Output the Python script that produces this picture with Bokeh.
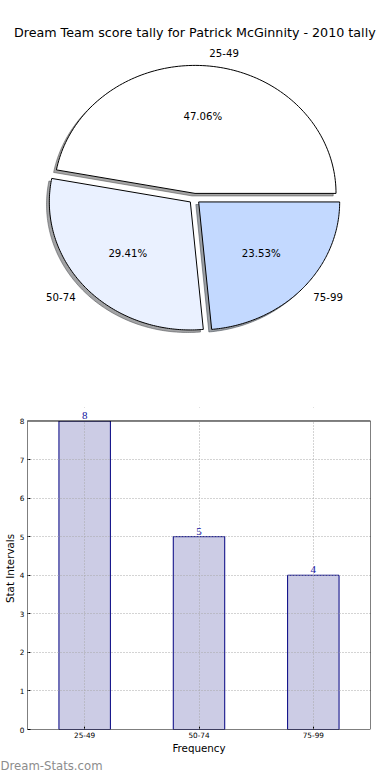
import numpy as np
from bokeh.plotting import figure
from bokeh.models import (ColumnDataSource, FixedTicker, LabelSet, Title, Range1d,
                          BoxAnnotation)
from bokeh.embed import file_html
from bokeh.resources import INLINE

# ---------------- data ----------------
title_text = "Dream Team score tally for Patrick McGinnity - 2010 tally"
categories = ["25-49", "50-74", "75-99"]
counts = [8, 5, 4]
y_ticks = [0, 1, 2, 3, 4, 5, 6, 7, 8]
x_axis_label = "Frequency"
y_axis_label = "Stat Intervals"
watermark = "Dream-Stats.com"

# ---------------- style ----------------
FONT = "DejaVu Sans"
slice_colors = ["#FFFFFF", "#EAF1FF", "#C3D9FF"]
W = 382
PIE_H = 352
BAR_H = 420
RX, RY = 141.0, 128.0      # pixels per unit radius (x, y)
CX, CY = 194.0, 198.0      # pie centre in figure pixels
EXPLODE = 0.04
SHADOW_D = -0.02


def shade(hexcol):
    h = hexcol.lstrip("#")
    r, g, b = (int(h[i:i + 2], 16) for i in (0, 2, 4))
    return "#%02x%02x%02x" % (int(r * 0.3), int(g * 0.3), int(b * 0.3))


# ---------------- pie ----------------
pie = figure(width=W, height=PIE_H, output_backend="svg", toolbar_location=None,
             x_range=Range1d(-CX / RX, (W - CX) / RX),
             y_range=Range1d(-(PIE_H - CY) / RY, CY / RY),
             x_axis_location=None, y_axis_location=None,
             min_border=0, outline_line_color=None)
pie.grid.visible = False

vals = np.array(counts, dtype=float)
frac = vals / vals.sum()
edges = np.concatenate([[0.0], np.cumsum(frac)]) * 2 * np.pi

xs, ys, sxs, sys_ = [], [], [], []
lab_x, lab_y, lab_align = [], [], []
pct_x, pct_y, pct_text = [], [], []
for i in range(len(counts)):
    a0, a1 = edges[i], edges[i + 1]
    mid = 0.5 * (a0 + a1)
    ox, oy = EXPLODE * np.cos(mid), EXPLODE * np.sin(mid)
    t = np.linspace(a0, a1, 120)
    px = np.concatenate([[ox], ox + np.cos(t)])
    py = np.concatenate([[oy], oy + np.sin(t)])
    xs.append(list(px)); ys.append(list(py))
    sxs.append(list(px + SHADOW_D)); sys_.append(list(py + SHADOW_D))
    lx = ox + 1.1 * np.cos(mid)
    ly = oy + 1.1 * np.sin(mid)
    lab_x.append(lx); lab_y.append(ly)
    lab_align.append("left" if lx > 0 else "right")
    pct_x.append(ox + 0.6 * np.cos(mid)); pct_y.append(oy + 0.6 * np.sin(mid))
    pct_text.append("%.2f%%" % (frac[i] * 100))

shadow_src = ColumnDataSource(dict(xs=sxs, ys=sys_, c=[shade(c) for c in slice_colors]))
pie.patches("xs", "ys", source=shadow_src, fill_color="c", fill_alpha=0.5,
            line_color="c", line_alpha=0.5, line_width=1)
slice_src = ColumnDataSource(dict(xs=xs, ys=ys, c=slice_colors))
pie.patches("xs", "ys", source=slice_src, fill_color="c", line_color="black", line_width=1)

lab_src = ColumnDataSource(dict(x=lab_x, y=lab_y, t=categories, a=lab_align))
pie.text(x="x", y="y", text="t", text_align="a", source=lab_src, text_baseline="middle",
         text_font={"value": FONT}, text_font_size="10.2px", text_color="black")
pct_src = ColumnDataSource(dict(x=pct_x, y=pct_y, t=pct_text))
pie.text(x="x", y="y", text="t", source=pct_src, text_align="center", text_baseline="middle",
         text_font={"value": FONT}, text_font_size="10.2px", text_color="black")

# title (centred above the pie)
pie.text(x=[(194.3 - CX) / RX], y=[(CY - 32) / RY], text=[title_text],
         text_align="center", text_baseline="middle",
         text_font={"value": FONT}, text_font_size="12.7px", text_color="black")

# ---------------- bar chart ----------------
Y_TOP = 8.35
bar = figure(width=W, height=BAR_H, output_backend="svg", toolbar_location=None,
             x_range=Range1d(-0.5, len(categories) - 0.5), y_range=Range1d(0, Y_TOP),
             min_border_top=55, min_border_right=12, min_border_left=0, min_border_bottom=0)
xpos = list(range(len(categories)))
bar_src = ColumnDataSource(dict(x=xpos, y=counts, t=[str(c) for c in counts]))
bar.vbar(x="x", top="y", width=0.45, source=bar_src,
         fill_color="#CCCCE5", line_color="#000080", line_width=1)

bar.outline_line_color = None

bar.yaxis.ticker = FixedTicker(ticks=y_ticks)
bar.xaxis.ticker = FixedTicker(ticks=xpos)
bar.xaxis.major_label_overrides = {i: c for i, c in zip(xpos, categories)}
for ax in (bar.xaxis, bar.yaxis):
    ax.axis_line_color = None
    ax.major_tick_in = 3
    ax.major_tick_out = 0
    ax.minor_tick_line_color = None
    ax.major_tick_line_color = "black"
    ax.major_label_text_font = FONT
    ax.major_label_text_font_size = "7.3px"
    ax.major_label_text_color = "black"
    ax.major_label_standoff = 3
    ax.axis_label_text_font = FONT
    ax.axis_label_text_font_style = "normal"
    ax.axis_label_text_font_size = "10.3px"
    ax.axis_label_text_color = "black"
    ax.axis_label_standoff = 2
bar.xaxis.axis_label = x_axis_label
bar.yaxis.axis_label = y_axis_label
bar.yaxis.axis_label_standoff = 1
bar.xaxis.major_label_standoff = 2
bar.xaxis.axis_label_standoff = 1

for g in (bar.xgrid, bar.ygrid):
    g.grid_line_color = "#a8a8a8"
    g.grid_line_dash = "1 2"
    g.grid_line_width = 1
    g.level = "guide"

# blank strip above the top of the axes box, then the axes box itself
bar.add_layout(BoxAnnotation(bottom=8, fill_color="white", fill_alpha=1,
                             line_color=None, level="annotation"))
bar.add_layout(BoxAnnotation(bottom=0, top=8, fill_color=None, fill_alpha=0,
                             line_color="black", line_width=1, line_alpha=1,
                             level="annotation"))

labels = LabelSet(x="x", y="y", text="t", source=bar_src, text_align="center",
                  text_baseline="bottom", y_offset=2, text_font=FONT,
                  text_font_size="11px", text_color="#1010a0", level="annotation")
bar.add_layout(labels)

bar.add_layout(Title(text=watermark, align="left", offset=-27, standoff=0,
                     text_font=FONT, text_font_size="11.7px", text_font_style="normal",
                     text_color="#8c8c8c", text_line_height=1.0), "below")

# two separate roots, stacked, so the frames are not aligned with each other
open("out.html", "w").write(file_html([pie, bar], INLINE))
